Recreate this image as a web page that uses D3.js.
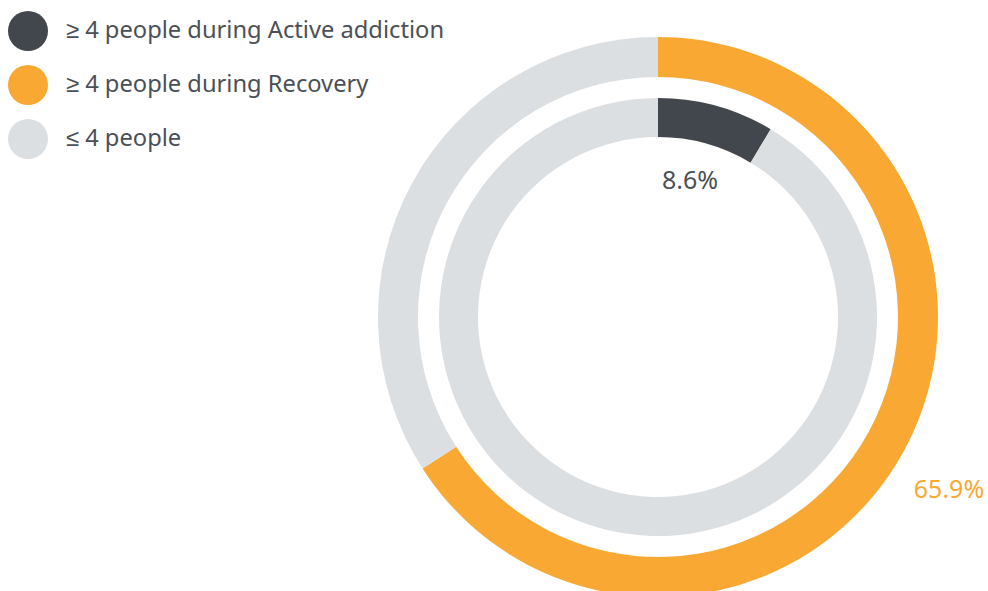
<!DOCTYPE html>
<html>
<head>
<meta charset="utf-8">
<script src="https://cdn.jsdelivr.net/npm/d3@7"></script>
<style>
  body { margin: 0; background: #fff; }
  svg text { font-family: "Source Sans Pro", "Noto Sans", sans-serif; }
</style>
</head>
<body>
<div id="chart"></div>
<script>
// Legend categories
const categories = ["≥ 4 people during Active addiction", "≥ 4 people during Recovery", "≤ 4 people"];
// Share of respondents, percent
const activeValues = [8.6, 91.4];
const recoveryValues = [65.9, 34.1];

const width = 988;
const height = 591;
const colors = ["#41474d", "#f9a833", "#dcdfe2"];

const svg = d3.select("#chart")
  .append("svg")
    .attr("width", width)
    .attr("height", height);

// Legend
const legend = svg.selectAll(".legend")
  .data(categories)
  .join("g")
    .attr("class", "legend")
    .attr("transform", (d, i) => `translate(28,${31 + i * 54})`);

legend.append("circle")
  .attr("r", 20)
  .attr("fill", (d, i) => colors[i]);

legend.append("text")
  .attr("x", 38)
  .attr("y", 7)
  .style("font-size", "23.7px")
  .style("fill", "#4a5056")
  .text(d => d);

const cx = 658, cy = 317;
const g = svg.append("g").attr("transform", `translate(${cx},${cy})`);

const pie = d3.pie().sort(null).value(d => d);

// Outer ring: recovery
const outerArc = d3.arc().innerRadius(240).outerRadius(280);
g.selectAll(".outer")
  .data(pie(recoveryValues))
  .join("path")
    .attr("class", "outer")
    .attr("d", outerArc)
    .attr("fill", (d, i) => i === 0 ? colors[1] : colors[2]);

// Inner ring: active addiction
const innerArc = d3.arc().innerRadius(180).outerRadius(219);
g.selectAll(".inner")
  .data(pie(activeValues))
  .join("path")
    .attr("class", "inner")
    .attr("d", innerArc)
    .attr("fill", (d, i) => i === 0 ? colors[0] : colors[2]);

// Value labels
g.append("text")
  .attr("x", 690 - cx)
  .attr("y", 189 - cy)
  .attr("text-anchor", "middle")
  .style("font-size", "25px")
  .style("fill", "#4a5056")
  .text(activeValues[0] + "%");

g.append("text")
  .attr("x", 949 - cx)
  .attr("y", 498 - cy)
  .attr("text-anchor", "middle")
  .style("font-size", "25px")
  .style("fill", colors[1])
  .text(recoveryValues[0] + "%");
</script>
</body>
</html>
